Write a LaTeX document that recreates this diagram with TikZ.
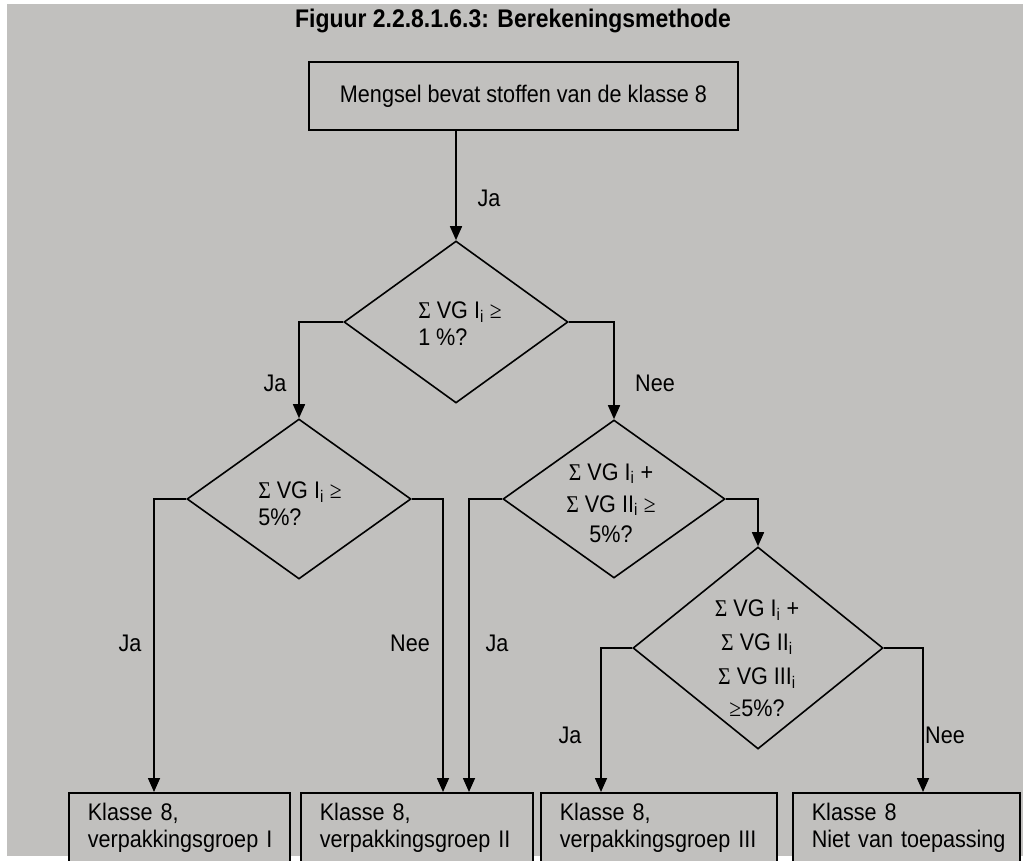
\documentclass[tikz,border=0pt]{standalone}
\usepackage{fontspec}
\setmainfont{Liberation Sans}[FakeStretch=0.9]
\newfontfamily\symb{Liberation Serif}[FakeStretch=0.9]
\usetikzlibrary{shapes.geometric,arrows.meta}
\definecolor{achtergrond}{RGB}{193,192,190}
\begin{document}
\begin{tikzpicture}[x=1pt,y=-1pt,
                    every node/.style={font=\fontsize{24}{27}\selectfont},
                    blok/.style={draw,line width=1.6pt,fill=achtergrond,anchor=north west,align=left,
                                 inner xsep=19pt,inner ysep=12pt,text height=16pt,text depth=50pt},
                    ruit/.style={draw,diamond,line width=1.6pt,inner sep=0pt},
                    pijl/.style={line width=1.6pt,-{Triangle[length=14pt,width=12pt]}}]
\useasboundingbox (0,0) rectangle (1027,861);
\clip (0,0) rectangle (1027,861);
\fill [achtergrond] (7,4) rectangle (1023,856);
\node [font=\bfseries\fontsize{25.5}{28}\selectfont] (titel) at (513,21) {Figuur 2.2.8.1.6.3: Berekeningsmethode};
\node [draw,line width=2pt,minimum width=429pt,minimum height=68pt] (start) at (523.5,96) {Mengsel bevat stoffen van de klasse 8};

\node [ruit,minimum width=224pt,minimum height=162pt] (d1) at (456,322) {};
\node [align=left] (t1) at (460,324) {{\symb Σ} VG I\textsubscript{i} {\symb ≥}\\1 \%?};
\node [ruit,minimum width=224pt,minimum height=160pt] (d2) at (299,499) {};
\node [align=left] (t2) at (300,504) {{\symb Σ} VG I\textsubscript{i} {\symb ≥}\\5\%?};
\node [ruit,minimum width=222pt,minimum height=158pt] (d3) at (614,499) {};
\node [align=center] (t3) at (611,503) {{\symb Σ} VG I\textsubscript{i} +\\[5pt]{\symb Σ} VG II\textsubscript{i} {\symb ≥}\\[3pt]5\%?};
\node [ruit,minimum width=250pt,minimum height=202pt] (d4) at (758,648) {};
\node [align=center] (t4) at (757,658) {{\symb Σ} VG I\textsubscript{i} +\\[7pt]{\symb Σ} VG II\textsubscript{i}\\[7pt]{\symb Σ} VG III\textsubscript{i}\\[5pt]{\symb ≥}5\%?};

\node [blok,text width=183pt] (b1) at (68,792) {\mbox{Klasse 8,}\\\mbox{verpakkingsgroep I}};
\node [blok,text width=194pt] (b2) at (300,792) {\mbox{Klasse 8,}\\\mbox{verpakkingsgroep II}};
\node [blok,text width=198pt] (b3) at (540,792) {\mbox{Klasse 8,}\\\mbox{verpakkingsgroep III}};
\node [blok,text width=189pt] (b4) at (792,792) {\mbox{Klasse 8}\\\mbox{Niet van toepassing}};

\draw [pijl] (start.south -| d1.north) -- (d1.north);
\draw [pijl] (d1.west) -| (d2.north);
\draw [pijl] (d1.east) -| (d3.north);
\draw [pijl] (d2.west) -| ([xshift=86pt]b1.north west);
\draw [pijl] (d2.east) -| ([xshift=143pt]b2.north west);
\draw [pijl] (d3.west) -| ([xshift=169pt]b2.north west);
\draw [pijl] (d3.east) -| (d4.north);
\draw [pijl] (d4.west) -| ([xshift=61pt]b3.north west);
\draw [pijl] (d4.east) -| ([xshift=131pt]b4.north west);

\node [anchor=west] (ja0) at (474,198) {Ja};
\node (ja1) at (275,383) {Ja};
\node (nee1) at (655,383) {Nee};
\node (ja2) at (130,643) {Ja};
\node (nee2) at (410,643) {Nee};
\node (ja3) at (497,643) {Ja};
\node (ja4) at (570,735) {Ja};
\node (nee4) at (945,735) {Nee};
\end{tikzpicture}
\end{document}
